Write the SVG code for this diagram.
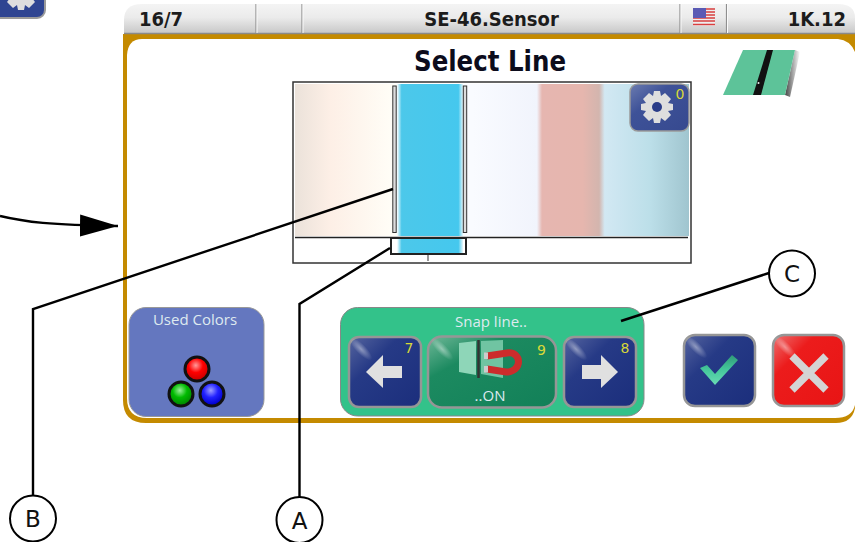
<svg xmlns="http://www.w3.org/2000/svg" width="855" height="542" viewBox="0 0 855 542">
<style>
text{font-family:"Open Sans","Liberation Sans",sans-serif}
.bar{font-family:"DejaVu Sans Condensed","DejaVu Sans",sans-serif;font-stretch:condensed;font-size:20px;font-weight:700;fill:#1c1c1c}
.title{font-family:"DejaVu Sans Condensed","DejaVu Sans",sans-serif;font-stretch:condensed;font-size:28px;font-weight:700;fill:#0c0c1c;text-anchor:middle}
.num{font-family:"DejaVu Sans",sans-serif;font-size:14px;fill:#d8d838;text-anchor:middle}
.lbl{font-size:15px;fill:#dfeaf0;text-anchor:middle}
.conn{fill:none;stroke:#000;stroke-width:2.4}
.callout{fill:#fff;stroke:#000;stroke-width:2}
.ctext{font-family:"DejaVu Sans",sans-serif;font-size:23px;fill:#111;text-anchor:middle}
.sep{stroke:#8f8f8f;stroke-width:1.2}
.sepw{stroke:#fafafa;stroke-width:1}
.btn{stroke:#969696;stroke-width:2.5}
.soft{filter:url(#soft)}
</style>
<defs>
<filter id="soft" x="-10%" y="-10%" width="120%" height="120%"><feGaussianBlur stdDeviation="0.6"/></filter>
<linearGradient id="barG" x1="0" y1="0" x2="0" y2="1"><stop offset="0" stop-color="#f4f4f4"/><stop offset=".45" stop-color="#ebebeb"/><stop offset="1" stop-color="#c6c6c6"/></linearGradient>
<linearGradient id="strip" x1="0" y1="0" x2="1" y2="0">
<stop offset="0" stop-color="#ebe2da"/><stop offset=".09" stop-color="#fdefe6"/><stop offset=".24" stop-color="#fffdf6"/><stop offset=".3" stop-color="#fff"/><stop offset=".45" stop-color="#f9fbff"/>
<stop offset=".614" stop-color="#f1f4fc"/><stop offset=".627" stop-color="#e6b6b0"/><stop offset=".73" stop-color="#e6b6ae"/><stop offset=".772" stop-color="#d3b5ae"/><stop offset=".786" stop-color="#d2e8f3"/><stop offset=".9" stop-color="#bcdfe9"/><stop offset="1" stop-color="#a0c5cf"/>
</linearGradient>
<linearGradient id="blue" x1="0" y1="0" x2="1" y2="0"><stop offset="0" stop-color="#ffffff"/><stop offset=".07" stop-color="#4cc8ea"/><stop offset=".93" stop-color="#45c8ee"/><stop offset="1" stop-color="#e8f8fc"/></linearGradient>
<linearGradient id="navy" x1="0" y1="0" x2="1" y2="1"><stop offset="0" stop-color="#56659f"/><stop offset=".35" stop-color="#263a86"/><stop offset="1" stop-color="#1b2e7c"/></linearGradient>
<linearGradient id="navy2" x1="0" y1="0" x2="1" y2="1"><stop offset="0" stop-color="#6c7cb0"/><stop offset=".35" stop-color="#3e5298"/><stop offset="1" stop-color="#36498f"/></linearGradient>
<linearGradient id="red" x1="0" y1="0" x2="1" y2="1"><stop offset="0" stop-color="#ee7070"/><stop offset=".3" stop-color="#ec1c1c"/><stop offset="1" stop-color="#e81414"/></linearGradient>
<linearGradient id="green" x1="0" y1="0" x2="1" y2="1"><stop offset="0" stop-color="#6fb898"/><stop offset=".3" stop-color="#1c8a60"/><stop offset="1" stop-color="#128058"/></linearGradient>
<linearGradient id="check" x1="0" y1="0" x2="0" y2="1"><stop offset="0" stop-color="#2f9a78"/><stop offset=".5" stop-color="#45c89c"/><stop offset="1" stop-color="#6adcb4"/></linearGradient>
<radialGradient id="glossG"><stop offset="0" stop-color="#fff" stop-opacity=".42"/><stop offset="1" stop-color="#fff" stop-opacity="0"/></radialGradient>
<radialGradient id="rb" cx=".45" cy=".35" r=".6"><stop offset="0" stop-color="#ff9a9a"/><stop offset=".5" stop-color="#f00"/><stop offset="1" stop-color="#c00"/></radialGradient>
<radialGradient id="gb" cx=".45" cy=".35" r=".6"><stop offset="0" stop-color="#9aef9a"/><stop offset=".5" stop-color="#0b0"/><stop offset="1" stop-color="#080"/></radialGradient>
<radialGradient id="bb" cx=".45" cy=".35" r=".6"><stop offset="0" stop-color="#a0a0ff"/><stop offset=".5" stop-color="#22f"/><stop offset="1" stop-color="#00c"/></radialGradient>
<linearGradient id="shade" x1="0" y1="0" x2="1" y2="0"><stop offset="0" stop-color="#444"/><stop offset="1" stop-color="#444" stop-opacity="0"/></linearGradient>
<marker id="arrow" markerUnits="userSpaceOnUse" markerWidth="42" markerHeight="24" refX="38" refY="11" orient="auto"><path d="M0 0 L38 11 L0 22 Z" fill="#000"/></marker>
<ellipse id="gloss" rx="15" ry="5" transform="rotate(45)" fill="url(#glossG)"/>
<g id="gear"><path d="M-3 -16H3L4 -11 8 -14 14 -8 11 -4 16 -3V3L11 4 14 8 8 14 4 11 3 16H-3L-4 11-8 14-14 8-11 4-16 3V-3L-11-4-14-8-8-14-4-11Z" fill="#dedede"/><circle r="5" fill="#2a3c88"/></g>
</defs>

<g id="cornerButton"><rect x="-20" y="-30" width="65" height="48" rx="8" fill="#2f4592" stroke="#9a9a9a" stroke-width="2"/><use href="#gear" x="21" y="-6"/></g>

<g id="panel">
<path d="M123 34H855V408Q852 423 836 423H146Q123 423 123 400Z" fill="#c48a00"/>
<path d="M127 55Q128 39 142 39H838Q850 40 855 52V405Q852 418 835 418H147Q127 418 127 398Z" fill="#fff"/>
<text class="title" x="490" y="71" textLength="152" lengthAdjust="spacingAndGlyphs">Select Line</text>
<g id="lineIcon">
<path d="M795 50L800 52 790 97 785 95Z" fill="url(#shade)"/>
<path d="M743 50H795L785 95H723Z" fill="#5dc399"/>
<path d="M767 50H773L761 95H753Z" fill="#111"/>
<circle cx="758.500" cy="83" r="1" fill="#eee"/>
</g>
</g>

<g id="statusBar">
<path d="M124 34V20Q124 4 142 4H838Q855 4 855 18V34Z" fill="url(#barG)"/>
<path d="M124 33.500H855" stroke="#8a8a8a" stroke-width="1.500"/>
<path class="sep" d="M256 4V33M302 4V33M680 4V33M726.500 4V33"/>
<path class="sepw" d="M257 4V33M303 4V33M681 4V33M727.500 4V33"/>
<text class="bar" x="139" y="26">16/7</text>
<text class="bar" x="491.500" y="26" text-anchor="middle">SE-46.Sensor</text>
<text class="bar" x="846" y="26" text-anchor="end">1K.12</text>
<g id="flag" class="soft"><rect x="693" y="8" width="22" height="18" fill="#eee"/><path d="M693 9H715M693 12H715M693 15H715M693 18H715M693 21H715M693 24.500H715" stroke="#d84040" stroke-width="1.500"/><rect x="693" y="8" width="13" height="10" fill="#5a5ab4"/></g>
</g>

<g id="lineView">
<rect x="293" y="82" width="398" height="181" fill="#fff" stroke="#333" stroke-width="1.500"/>
<rect x="295" y="84" width="394" height="152" fill="url(#strip)"/>
<rect x="397" y="84" width="66" height="152" fill="url(#blue)"/>
<rect x="392.800" y="86" width="3.400" height="146.500" fill="#ddd" stroke="#333" stroke-width="1"/>
<rect x="463.300" y="86" width="3.400" height="146.500" fill="#ddd" stroke="#333" stroke-width="1"/>
<path d="M295 237.500H688" stroke="#222" stroke-width="1.600"/>
<rect x="391" y="238" width="75" height="16" fill="#fff" stroke="#222" stroke-width="2"/>
<rect x="397" y="239" width="66" height="14" fill="url(#blue)"/>
<path d="M428 255V261" stroke="#555" stroke-width="1.200"/>
<g id="gearButton"><rect x="630" y="84" width="59" height="47" rx="8" fill="url(#navy2)" stroke="#9a9a9a" stroke-width="1.500"/><use href="#gear" x="657" y="107"/><text class="num" x="680" y="99">0</text></g>
</g>

<g id="usedColors">
<rect x="129" y="307.500" width="135" height="109" rx="17" fill="#6477bf" stroke="#999"/>
<text class="lbl" x="195" y="325">Used Colors</text>
<circle cx="197" cy="369" r="12" fill="url(#rb)" stroke="#111" stroke-width="3"/>
<circle cx="181" cy="394" r="12" fill="url(#gb)" stroke="#111" stroke-width="3"/>
<circle cx="212" cy="394" r="12" fill="url(#bb)" stroke="#111" stroke-width="3"/>
</g>

<g id="snapLine">
<rect x="340.500" y="307.500" width="303.500" height="108.500" rx="17" fill="#33c28a" stroke="#888"/>
<text class="lbl" x="491" y="327">Snap line..</text>
<g id="leftButton"><rect class="btn" x="349" y="337" width="72" height="70" rx="10" fill="url(#navy)"/><use href="#gloss" x="361" y="349"/><path d="M366 372L383 355V366H402V378H383V388Z" fill="#e0e0e0"/><text class="num" x="409" y="353">7</text></g>
<g id="magnetButton"><rect class="btn" x="428" y="336.500" width="128" height="71" rx="14" fill="url(#green)"/><use href="#gloss" x="442" y="349"/>
<path d="M459 343L476 341V375L459 372Z" fill="#8ed6b8"/><path d="M481 341L503 340V378L481 374Z" fill="#70c4a2"/><path d="M478.500 340V378" stroke="#333" stroke-width="2.500"/>
<path d="M487 356L507 353C522 351 523 372 506 372L487 369" fill="none" stroke="#cc2c2c" stroke-width="7"/>
<path d="M484 352.500L488 352.500 488 359 484 359ZM484 366L488 366 488 372.500 484 372.500Z" fill="#ccc"/>
<text class="num" x="541.500" y="355">9</text><text class="lbl" x="490" y="401">..ON</text></g>
<g id="rightButton"><rect class="btn" x="564" y="337" width="72" height="70" rx="10" fill="url(#navy)"/><use href="#gloss" x="576" y="349"/><path d="M618 372L601 355V365H582V379H601V388Z" fill="#e0e0e0"/><text class="num" x="625" y="353">8</text></g>
</g>

<g id="okButton"><rect class="btn" x="684" y="335" width="71" height="71" rx="11" fill="url(#navy)"/><use href="#gloss" x="696" y="347"/><path d="M700 368L707 365 715 374 732 355 738 360 715 385Z" fill="url(#check)"/></g>
<g id="cancelButton"><rect class="btn" x="773" y="335" width="71" height="71" rx="11" fill="url(#red)"/><use href="#gloss" x="785" y="347"/><path d="M792 356L826 390M826 356L792 390" stroke="#d4d4d4" stroke-width="7.500"/></g>

<g id="connectors">
<path class="conn" d="M0 216C25 222 50 225 118 226" marker-end="url(#arrow)"/>
<path class="conn" d="M33 496V309L393 189"/>
<path class="conn" d="M299.500 497V304L390 248"/>
<path class="conn" d="M621 321L769 273"/>
</g>

<g id="calloutA"><circle class="callout" cx="299.500" cy="520" r="23"/><text class="ctext" x="299.500" y="529">A</text></g>
<g id="calloutB"><circle class="callout" cx="33" cy="518.500" r="23"/><text class="ctext" x="33" y="527">B</text></g>
<g id="calloutC"><circle class="callout" cx="792" cy="273.500" r="23"/><text class="ctext" x="792" y="282">C</text></g>
</svg>
